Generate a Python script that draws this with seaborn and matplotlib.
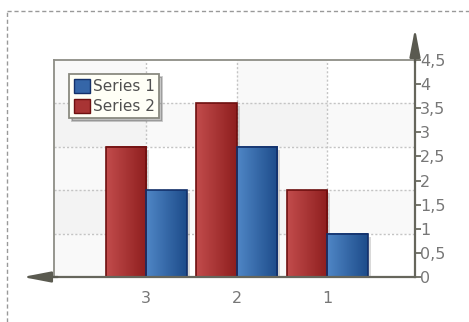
import matplotlib
matplotlib.use('Agg')
import matplotlib.pyplot as plt
import matplotlib.transforms as mtransforms
from matplotlib.colors import LinearSegmentedColormap
from matplotlib.patches import Patch, Rectangle
from matplotlib.lines import Line2D
import numpy as np
import pandas as pd
import seaborn as sns

# data (x axis runs 3, 2, 1)
categories = ['3', '2', '1']
series_1 = [1.8, 2.7, 0.9]
series_2 = [2.7, 3.6, 1.8]
y_ticks = [0, 0.5, 1, 1.5, 2, 2.5, 3, 3.5, 4, 4.5]
grid_step = 0.9

df = pd.DataFrame({
    'cat': categories * 2,
    'val': series_2 + series_1,
    'series': ['Series 2'] * 3 + ['Series 1'] * 3,
})

red_grad = LinearSegmentedColormap.from_list('r', ['#c24c4c', '#8e1e1e'])
blue_grad = LinearSegmentedColormap.from_list('b', ['#4f86c6', '#1d4c8a'])
edge = {'Series 2': '#6e1010', 'Series 1': '#13306a'}
mid = {'Series 2': '#a83434', 'Series 1': '#3566a8'}

sns.set_style('white')
plt.rcParams['font.family'] = ['DejaVu Sans']

fig = plt.figure(figsize=(4.69, 3.22), dpi=100)
ax = fig.add_axes([54 / 469, 45 / 322, 361 / 469, 217 / 322])

sns.barplot(data=df, x='cat', y='val', hue='series', order=categories,
            hue_order=['Series 2', 'Series 1'], palette=mid, width=0.9,
            saturation=1, legend=False, ax=ax)

xlim = (-1.02, 2.97)
ax.set_xlim(*xlim)
ax.set_ylim(0, 4.5)

# background bands (rows and columns overlap into a light checker)
for i in (1, 3):
    ax.axhspan(grid_step * i, grid_step * (i + 1), color='k', alpha=0.025, lw=0, zorder=0)
ax.axvspan(xlim[0], 0, color='k', alpha=0.025, lw=0, zorder=0)
ax.axvspan(1, 2, color='k', alpha=0.025, lw=0, zorder=0)

for i in range(1, 5):
    ax.axhline(grid_step * i, color='#c4c4c4', ls=(0, (1.5, 1.5)), lw=1, zorder=0.5)
for x in range(3):
    ax.axvline(x, color='#c4c4c4', ls=(0, (1.5, 1.5)), lw=1, zorder=0.5)

# gradients, shadows, edges
shadow_tr = mtransforms.offset_copy(ax.transData, fig, x=3, y=-3, units='dots')
grad = np.linspace(0, 1, 64).reshape(1, -1)
for cont, name, cmap in zip(ax.containers, ['Series 2', 'Series 1'], [red_grad, blue_grad]):
    for bar in cont:
        x0, w, h = bar.get_x(), bar.get_width(), bar.get_height()
        ax.add_patch(Rectangle((x0, 0), w, h, transform=shadow_tr,
                               color='k', alpha=0.15, lw=0, zorder=1.5))
        ax.imshow(grad, extent=[x0, x0 + w, 0, h], aspect='auto',
                  cmap=cmap, zorder=1.8, interpolation='bilinear')
        bar.set_facecolor('none')
        bar.set_edgecolor(edge[name])
        bar.set_linewidth(1.2)
        bar.set_zorder(2)
ax.set_xlim(*xlim)
ax.set_ylim(0, 4.5)

# axes
ax.set_xlabel('')
ax.set_ylabel('')
ax.yaxis.tick_right()
ax.set_yticks(y_ticks)
ax.set_yticklabels([('%g' % v).replace('.', ',') for v in y_ticks])
ax.set_xticks(range(3))
ax.set_xticklabels(categories)
ax.tick_params(axis='y', direction='out', length=4, width=1.3, color='#6a6a60',
               labelcolor='#777777', labelsize=11.5, pad=-0.5)
ax.tick_params(axis='x', direction='out', length=3, width=1, color='#8a8a80',
               labelcolor='#777777', labelsize=11.5, pad=7)
for s in ('top', 'left'):
    ax.spines[s].set_color('#8e8e86')
    ax.spines[s].set_linewidth(1.3)
for s in ('right', 'bottom'):
    ax.spines[s].set_color('#66665c')
    ax.spines[s].set_linewidth(1.6)

# axis arrows
arrow = dict(arrowstyle='-|>,head_length=1.3,head_width=0.25', color='#5a5a50',
             lw=1.6, mutation_scale=13, shrinkA=0, shrinkB=0)
ax.annotate('', xy=(1, 1.145), xytext=(1, 0.99), xycoords='axes fraction',
            arrowprops=arrow, annotation_clip=False)
ax.annotate('', xy=(-0.087, 0), xytext=(0.01, 0), xycoords='axes fraction',
            arrowprops=arrow, annotation_clip=False)

# legend
handles = [Patch(facecolor='#3566a8', edgecolor='#13306a', lw=1),
           Patch(facecolor='#a83434', edgecolor='#6e1010', lw=1)]
leg = ax.legend(handles, ['Series 1', 'Series 2'], loc='upper left',
                bbox_to_anchor=(0.042, 0.935), borderaxespad=0, fancybox=False,
                shadow={'color': 'k', 'alpha': 0.22}, framealpha=1,
                edgecolor='#8a8a80', facecolor='#fffff6', fontsize=11,
                handlelength=1.05, handleheight=1.05, handletextpad=0.2,
                labelspacing=0.3, borderpad=0.3)
leg.get_frame().set_linewidth(1.3)
for t in leg.get_texts():
    t.set_color('#505050')

# dashed outer frame
top = 1 - 11 / 322
left = 7 / 469
fig.add_artist(Line2D([left, 1], [top, top], transform=fig.transFigure,
                      ls=(0, (3, 2)), color='#999999', lw=1))
fig.add_artist(Line2D([left, left], [0, top], transform=fig.transFigure,
                      ls=(0, (3, 2)), color='#999999', lw=1))

fig.savefig('out.png', dpi=100)
